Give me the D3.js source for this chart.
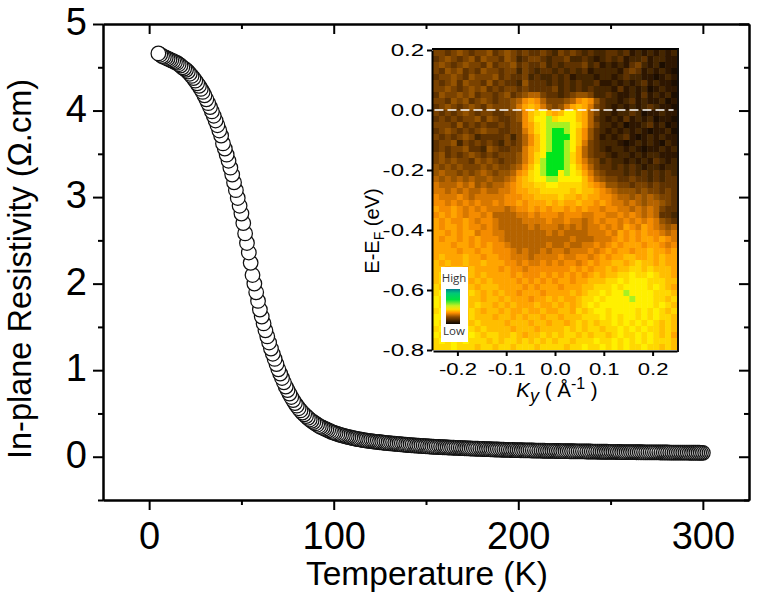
<!DOCTYPE html>
<html><head><meta charset="utf-8">
<script src="https://cdn.jsdelivr.net/npm/d3@7"></script>
<style>
html,body{margin:0;padding:0;background:#fff}
svg{display:block}
text{font-family:"Liberation Sans",Arial,sans-serif;fill:#000}
</style></head><body>
<svg id="c" width="757" height="597"></svg>
<script>
const temperature = [5,6,7,8,9,10,11,12,13,14,15,16,17,18,19,20,21,22,23,24,25,26,27,28,29,30,31,32,33,34,35,36,37,38,39,40,41,42,43,44,45,46,47,48,49,50,51,52,53,54,55,56,57,58,59,60,61,62,63,64,65,66,67,68,69,70,71,72,73,74,75,76,77,78,79,80,81,82,83,84,85,86,87,88,89,90,91,92,93,94,95,96,97,98,99,100,101,102,103,104,105,106,107,108,109,110,111,112,113,114,115,116,117,118,119,120,121,122,123,124,125,126,127,128,129,130,131,132,133,134,135,136,137,138,139,140,141,142,143,144,145,146,147,148,149,150,151,152,153,154,155,156,157,158,159,160,161,162,163,164,165,166,167,168,169,170,171,172,173,174,175,176,177,178,179,180,181,182,183,184,185,186,187,188,189,190,191,192,193,194,195,196,197,198,199,200,201,202,203,204,205,206,207,208,209,210,211,212,213,214,215,216,217,218,219,220,221,222,223,224,225,226,227,228,229,230,231,232,233,234,235,236,237,238,239,240,241,242,243,244,245,246,247,248,249,250,251,252,253,254,255,256,257,258,259,260,261,262,263,264,265,266,267,268,269,270,271,272,273,274,275,276,277,278,279,280,281,282,283,284,285,286,287,288,289,290,291,292,293,294,295,296,297,298,299,300];
const resistivity = [4.66,4.645,4.63,4.62,4.61,4.6,4.59,4.58,4.57,4.56,4.55,4.535,4.52,4.5,4.485,4.47,4.45,4.425,4.4,4.375,4.345,4.315,4.285,4.25,4.215,4.175,4.13,4.085,4.04,3.99,3.94,3.885,3.83,3.77,3.71,3.62,3.56,3.49,3.42,3.34,3.26,3.17,3.08,2.99,2.9,2.81,2.7,2.58,2.47,2.36,2.24,2.1,2,1.9,1.8,1.7,1.62,1.54,1.46,1.39,1.32,1.25,1.19,1.13,1.07,1.01,0.96,0.91,0.86,0.81,0.77,0.73,0.69,0.655,0.62,0.59,0.56,0.535,0.51,0.49,0.47,0.45,0.43,0.415,0.4,0.385,0.37,0.355,0.345,0.335,0.325,0.315,0.305,0.295,0.285,0.278,0.27,0.263,0.256,0.25,0.244,0.238,0.232,0.227,0.222,0.217,0.212,0.208,0.204,0.2,0.196,0.192,0.189,0.186,0.183,0.18,0.177,0.175,0.172,0.17,0.167,0.165,0.162,0.16,0.158,0.156,0.154,0.152,0.15,0.148,0.146,0.144,0.142,0.14,0.138,0.136,0.134,0.133,0.131,0.13,0.128,0.127,0.125,0.124,0.122,0.121,0.119,0.118,0.116,0.115,0.114,0.113,0.112,0.111,0.11,0.109,0.108,0.107,0.106,0.105,0.104,0.103,0.102,0.101,0.1,0.099,0.098,0.097,0.096,0.095,0.094,0.093,0.092,0.092,0.091,0.09,0.089,0.088,0.087,0.087,0.086,0.085,0.084,0.084,0.083,0.082,0.081,0.081,0.08,0.08,0.079,0.078,0.078,0.077,0.077,0.076,0.075,0.075,0.074,0.074,0.073,0.073,0.072,0.072,0.071,0.071,0.07,0.07,0.069,0.069,0.068,0.068,0.068,0.067,0.067,0.066,0.066,0.066,0.065,0.065,0.064,0.064,0.064,0.063,0.063,0.063,0.062,0.062,0.062,0.061,0.061,0.061,0.06,0.06,0.06,0.059,0.059,0.059,0.058,0.058,0.058,0.057,0.057,0.057,0.056,0.056,0.056,0.056,0.055,0.055,0.055,0.054,0.054,0.054,0.054,0.053,0.053,0.053,0.053,0.052,0.052,0.052,0.052,0.051,0.051,0.051,0.051,0.05,0.05,0.05,0.05,0.05,0.049,0.049,0.049,0.049,0.049,0.048,0.048,0.048,0.048,0.048,0.047,0.047,0.047,0.047,0.047,0.047,0.046,0.046,0.046,0.046,0.046,0.046,0.045,0.045];
const xTicks = [0,100,200,300];
const xMinor = [50,150,250];
const yTicks = [0,1,2,3,4,5];
const yMinor = [-0.5,0.5,1.5,2.5,3.5,4.5];
const insetXTicks = [-0.2,-0.1,0,0.1,0.2];
const insetXLabels = ["-0.2","-0.1","0.0","0.1","0.2"];
const insetYTicks = [0.2,0,-0.2,-0.4,-0.6,-0.8];
const insetYLabels = ["0.2","0.0","-0.2","-0.4","-0.6","-0.8"];
// ARPES intensity, one hex digit (0..f) per cell, top row first
const heatRows = [
"5545654556 4565454454 3545434334 43423232323",
"4565456465 5465345543 4453343234 34233423322",
"5654565546 4556454453 4344453423 23245323122",
"5465645465 5455354344 3434342333 32454232321",
"4556546555 6454453433 4342333233 23433221232",
"5456465546 4544364443 4343433422 32323423221",
"5565456564 5455454444 5343434333 24232312322",
"4655656455 4564567754 4345665334 32232423231",
"5546564565 455679a975 55679a9643 32342322312",
"4565456546 55568aba86 568aba8543 23232343221",
"5454565455 445569bcdb abddba7533 23343122322",
"4545455646 544569bdde cdddba7432 32423231221",
"5554645454 454559acde eeedca7533 23122342312",
"4565454565 544558acde ffedb96432 32323212231",
"5454565344 4453579bde fffdb96423 23421232322",
"4556354545 4354579bde ffedb85433 32123232132",
"4545564436 544558abde ffeda75432 33232122323",
"5645456545 455568acdf ffeca75443 23323233222",
"5656554656 545568acef ffeca86534 33232324323",
"6565655565 655679bdef ffedb97544 34343233233",
"6766565676 56679acdef fdedca8654 44343434343",
"7676767667 6678abcdde eddddb9765 54454434344",
"8777878676 7789abbccd dccccba986 65545545444",
"8878787787 7889aabbcc cccbcbba98 76665655454",
"9888987888 88999aabbb bcbbabaa99 87767676554",
"9989898988 9899a9aaab abaabaa9a9 88787677654",
"a99a989898 887899a9a9 aa9a9a9989 98878787544",
"9a9a989989 7777889899 9899988998 89898787443",
"a9a99a9899 8777788889 8898878989 98989898654",
"a9aa9a9989 8777778788 8787878898 98a98a98767",
"aa9a9aa899 8877777778 7877778889 8a9a9a99878",
"a9aa9a9a99 9877777777 7778777888 9a9a9aa9a98",
"aaa9aa9a9a 9987777778 7787788989 a9aaa9aa989",
"aaaa9aa9aa 9998787787 887888989a 9aa9aabaa9a",
"abaaabaa9a a998887888 89889989a9 aabbaababaa",
"babaabaaba aa99898898 989989a9aa bbabcbbabaa",
"bbabbabaaa a9a9989999 999a9a9aab abbccbcbbba",
"bcbbabbaba aaa9a999a9 a9a9a9abab bccdccdcbba",
"bcbcbbabab aaaa9a9a9a 9aa9aabbbc cdcdddcccbb",
"cbcbcbbabb baaaa9a9aa a9aaabbccc dcddddcdcba",
"cdcbcbcbab abaa9aaa9a aaababccdc ddeddddcccb",
"dcccbcbbab babaaa9aab abaabccdcd dddedddccbc",
"dcdcbcbcbb ababaaabaa bababcdcdd dddddddcdcb",
"cdcbcbcbab babaabaaba abbacbcddc ddddcdcdcbc",
"ddcdcbcbbb abbababbab babbbcccdc dcddcdcdccb",
"dcdcdcbcbb bbabbbabba bbabcbcbcc dcdcdcdcbcb",
"cdcdcdcbcb bbbabbbabb bbcbcbccbc cdcdcdccbcb",
"dcdcdcdcbc cbbcbabbcb cbccbcbccb cdccdcdcbca",
"cdcdcdcccb cbccbcbcbc bccbcccdcc dcdcdcdcccb",
"cccdcccbcc bccbcccbcc ccbccdccdc dcdccdccbcb"
];
const heatColors = ["#0f0700","#1d0e00","#2e1800","#452500","#5e3300","#7a4300","#955300","#b56400","#d87800","#f58c00","#ffa500","#ffbe00","#ffd800","#fff000","#a8f020","#00e51e"];
const legendStops = [["0%","#00808f"],["12%","#00c878"],["30%","#00e040"],["48%","#c8f020"],["58%","#ffe000"],["68%","#ff9000"],["80%","#8a4a00"],["100%","#0a0400"]];

const svg = d3.select("#c");
const x = d3.scaleLinear().domain([-25,325]).range([103,749]);
const y = d3.scaleLinear().domain([-0.5,5]).range([500,24]);

function ax(gen, tx, ty, sw){
  const g = svg.append("g").attr("transform",`translate(${tx},${ty})`).call(gen);
  g.selectAll("line").attr("stroke","#000").attr("stroke-width",sw);
  g.selectAll("path").attr("stroke","#000").attr("stroke-width",sw);
  g.attr("font-family",null).attr("font-size",null);
  return g;
}
const mainFmt = d3.format("d");
const gBottom = ax(d3.axisBottom(x).tickValues(xTicks).tickSize(10).tickSizeOuter(0).tickFormat(mainFmt),0,500,2);
ax(d3.axisBottom(x).tickValues(xMinor).tickSize(5).tickSizeOuter(0).tickFormat(""),0,500,2);
ax(d3.axisTop(x).tickValues(xTicks).tickSize(-10).tickSizeOuter(0).tickFormat(""),0,24,2);
ax(d3.axisTop(x).tickValues(xMinor).tickSize(-5).tickSizeOuter(0).tickFormat(""),0,24,2);
const gLeft = ax(d3.axisLeft(y).tickValues(yTicks).tickSize(10).tickSizeOuter(0).tickFormat(mainFmt),103,0,2);
ax(d3.axisLeft(y).tickValues(yMinor).tickSize(5).tickSizeOuter(0).tickFormat(""),103,0,2);
ax(d3.axisRight(y).tickValues(yTicks).tickSize(-10).tickSizeOuter(0).tickFormat(""),749,0,2);
ax(d3.axisRight(y).tickValues(yMinor).tickSize(-5).tickSizeOuter(0).tickFormat(""),749,0,2);
gBottom.selectAll("text").style("font-size","38px").attr("y",22).attr("dy","0.71em");
gLeft.selectAll("text").style("font-size","38px").attr("x",-16).attr("dy","0.28em");

// curve: drawn from high T to low T so the coldest marker sits on top
const pts = temperature.map((t,i)=>({t,r:resistivity[i]})).reverse();
svg.append("g").selectAll("circle").data(pts).join("circle")
  .attr("cx",d=>x(d.t)).attr("cy",d=>y(d.r)).attr("r",7.3)
  .attr("fill","#fff").attr("stroke","#111").attr("stroke-width",1.25);

svg.append("text").attr("x",427).attr("y",585).attr("text-anchor","middle").style("font-size","33.5px").text("Temperature (K)");
svg.append("text").attr("transform","translate(31,269) rotate(-90)").attr("text-anchor","middle").style("font-size","32.5px").text("In-plane Resistivity (Ω.cm)");

// inset
const ix = d3.scaleLinear().domain([-0.25,0.25]).range([433,677]);
const iy = d3.scaleLinear().domain([-0.8,0.2]).range([350,50]);
const rows = heatRows.map(r=>r.replace(/ /g,"").split("").map(c=>parseInt(c,16)));
const colBand = d3.scaleBand().domain(d3.range(rows[0].length)).range([ix.range()[0],ix.range()[1]]);
const rowBand = d3.scaleBand().domain(d3.range(rows.length)).range([iy.range()[1],iy.range()[0]]);
const colorOf = d3.scaleOrdinal().domain(d3.range(16)).range(heatColors);
const defs = svg.append("defs");
defs.append("filter").attr("id","soft").attr("x","-2%").attr("y","-2%").attr("width","104%").attr("height","104%")
  .append("feGaussianBlur").attr("stdDeviation",0.6);
defs.append("clipPath").attr("id","ic").append("rect").attr("x",433).attr("y",50).attr("width",244).attr("height",300);
const cells = rows.flatMap((r,i)=>r.map((v,j)=>({i,j,v})));
svg.append("g").attr("clip-path","url(#ic)").append("g").attr("filter","url(#soft)")
  .selectAll("rect").data(cells).join("rect")
  .attr("x",d=>colBand(d.j)).attr("y",d=>rowBand(d.i))
  .attr("width",colBand.bandwidth()+0.5).attr("height",rowBand.bandwidth()+0.5)
  .attr("fill",d=>colorOf(d.v));

svg.append("line").attr("x1",ix(-0.247)).attr("x2",ix(0.243)).attr("y1",iy(0)).attr("y2",iy(0))
  .attr("stroke","#fff").attr("stroke-width",1.7).attr("stroke-dasharray","9 4");

const iax = d3.axisBottom(ix).tickValues(insetXTicks).tickSize(5).tickSizeOuter(0).tickFormat((d,i)=>insetXLabels[i]);
const iay = d3.axisLeft(iy).tickValues(insetYTicks).tickSize(5).tickSizeOuter(0).tickFormat((d,i)=>insetYLabels[i]);
const gx = ax(iax,0,351,2);
gx.selectAll("text").style("font-size","16px").attr("y",13).attr("dy","0.71em").attr("transform","scale(1.38,1)");
const gy = ax(iay,432,0,2);
gy.selectAll("text").style("font-size","17px").attr("x",-5.5).attr("transform","scale(1.42,1)");
svg.append("line").attr("x1",432).attr("x2",679).attr("y1",49).attr("y2",49).attr("stroke","#000").attr("stroke-width",2);
svg.append("line").attr("x1",678).attr("x2",678).attr("y1",49).attr("y2",352).attr("stroke","#111").attr("stroke-width",2);

const it = svg.append("text").attr("x",557).attr("y",397).attr("text-anchor","middle").style("font-size","20.5px");
it.append("tspan").style("font-style","italic").text("K");
it.append("tspan").style("font-style","italic").style("font-size","18px").attr("dy",5).text("y");
it.append("tspan").attr("dy",-5).text(" ( Å");
it.append("tspan").style("font-size","16px").attr("dy",-8).text("-1");
it.append("tspan").attr("dy",8).text(" )");

const et = svg.append("text").attr("transform","translate(379,231) rotate(-90)").attr("text-anchor","middle").style("font-size","20px");
et.append("tspan").text("E-E");
et.append("tspan").style("font-size","14px").attr("dy",5).text("F");
et.append("tspan").attr("dy",-5).text(" (eV)");

// intensity legend
const lg = defs.append("linearGradient").attr("id","lg").attr("x1",0).attr("x2",0).attr("y1",0).attr("y2",1);
legendStops.forEach(s=>lg.append("stop").attr("offset",s[0]).attr("stop-color",s[1]));
svg.append("rect").attr("x",441).attr("y",267).attr("width",27).attr("height",75).attr("fill","#fff");
svg.append("rect").attr("x",446).attr("y",289).attr("width",14).attr("height",35).attr("fill","url(#lg)");
svg.append("text").attr("x",454).attr("y",282).attr("text-anchor","middle").style("font-family","'Open Sans'").style("font-size","11.5px").style("fill","#333").text("High");
svg.append("text").attr("x",454).attr("y",335).attr("text-anchor","middle").style("font-family","'Open Sans'").style("font-size","11.5px").style("fill","#333").text("Low");
</script>
</body></html>
